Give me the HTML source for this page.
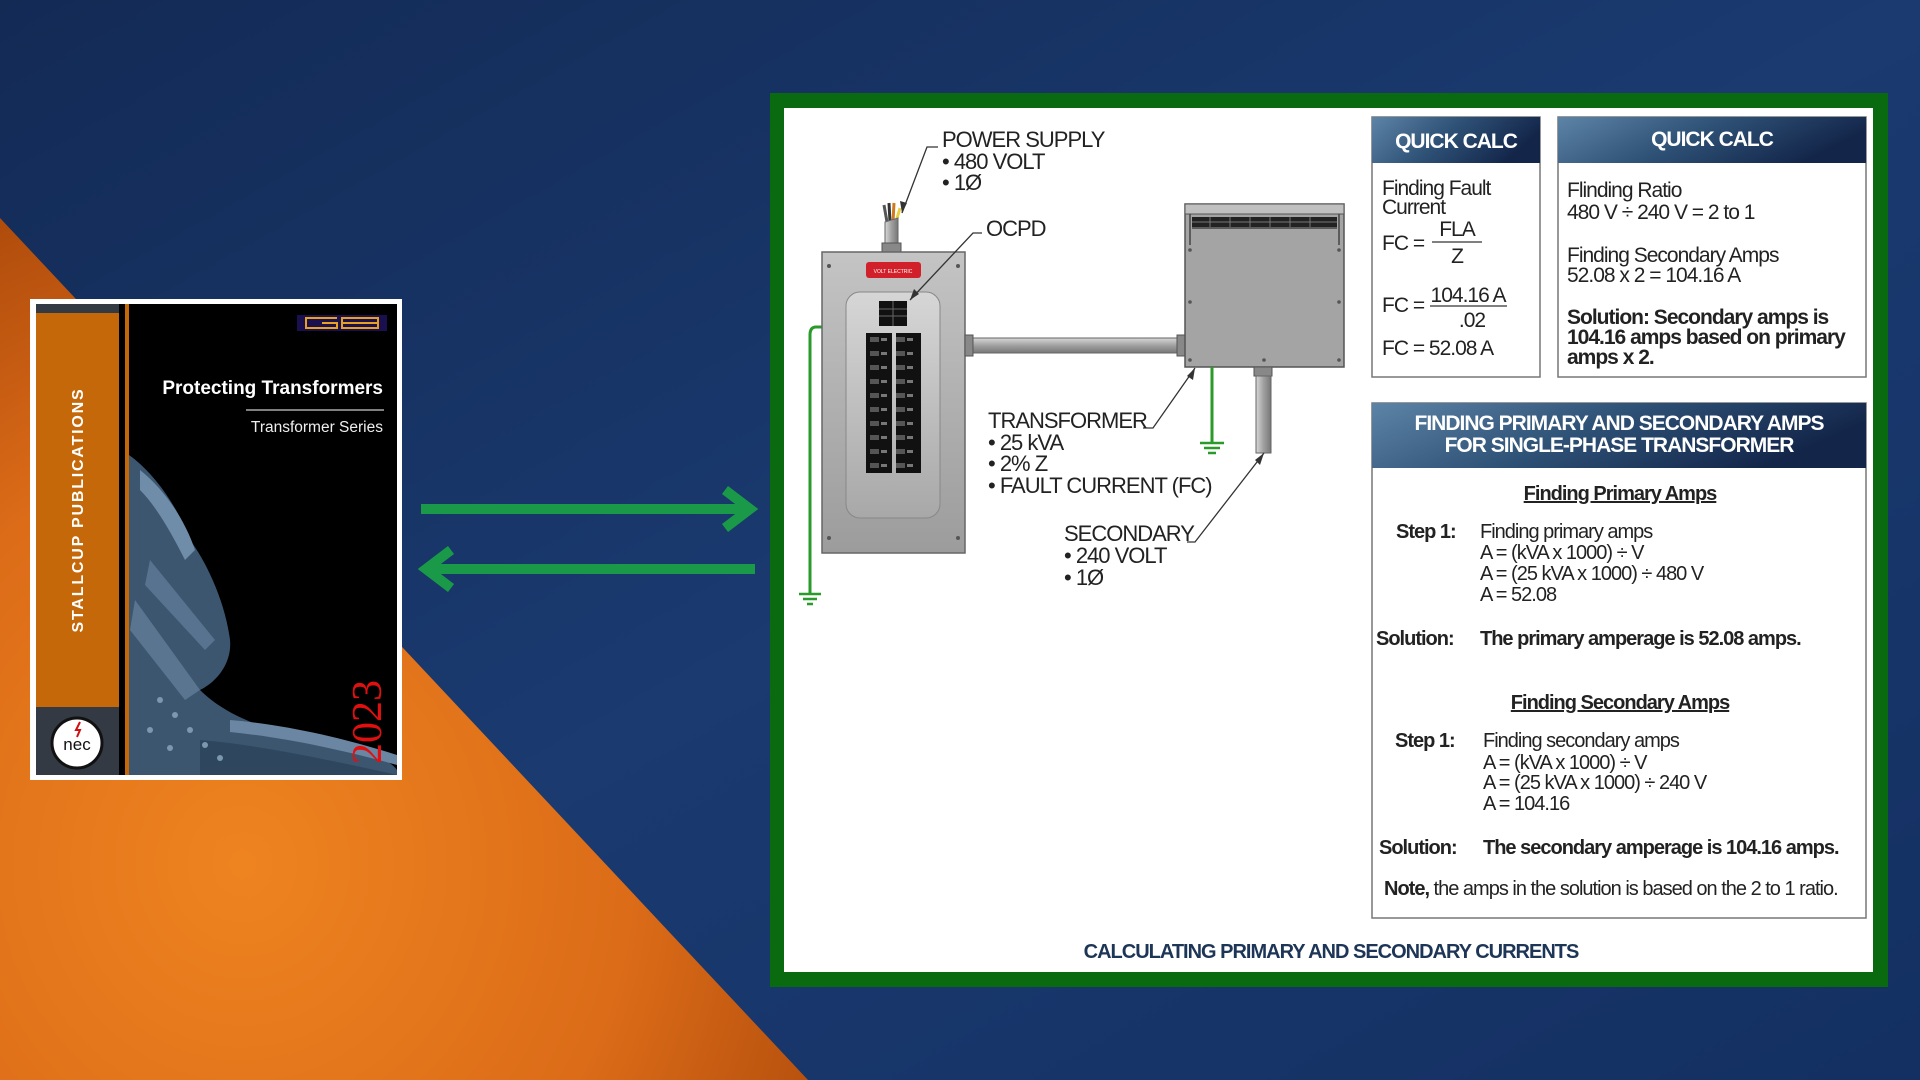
<!DOCTYPE html>
<html><head><meta charset="utf-8"><style>
html,body{margin:0;padding:0;width:1920px;height:1080px;overflow:hidden;background:#173468}
svg{position:absolute;left:0;top:0}
.n{font-family:"Liberation Sans",Arial,sans-serif;letter-spacing:-1px}
</style></head><body>
<svg width="1920" height="1080" viewBox="0 0 1920 1080" xmlns="http://www.w3.org/2000/svg">
<defs>
<linearGradient id="bg" x1="0" y1="0" x2="1" y2="1"><stop offset="0" stop-color="#132a55"/><stop offset="0.5" stop-color="#1a3a70"/><stop offset="1" stop-color="#143062"/></linearGradient>
<radialGradient id="or" cx="0.3" cy="0.75" r="0.8"><stop offset="0" stop-color="#ee8420"/><stop offset="0.6" stop-color="#dc6c18"/><stop offset="1" stop-color="#b04c0c"/></radialGradient>
<linearGradient id="hd" x1="0" y1="0" x2="1" y2="0.3"><stop offset="0" stop-color="#5d84a6"/><stop offset="0.5" stop-color="#2f5277"/><stop offset="1" stop-color="#13264a"/></linearGradient>
<linearGradient id="pn" x1="0" y1="0" x2="0" y2="1"><stop offset="0" stop-color="#c4c4c4"/><stop offset="1" stop-color="#9c9c9c"/></linearGradient>
<linearGradient id="dr" x1="0" y1="0" x2="0" y2="1"><stop offset="0" stop-color="#d6d6d6"/><stop offset="1" stop-color="#a8a8a8"/></linearGradient>
<linearGradient id="cd" x1="0" y1="0" x2="0" y2="1"><stop offset="0" stop-color="#d8d8d8"/><stop offset="0.5" stop-color="#a0a0a0"/><stop offset="1" stop-color="#777"/></linearGradient>
<linearGradient id="cv" x1="0" y1="0" x2="1" y2="0"><stop offset="0" stop-color="#d8d8d8"/><stop offset="0.5" stop-color="#a0a0a0"/><stop offset="1" stop-color="#777"/></linearGradient>
<pattern id="brk" x="866" y="333" width="26" height="14" patternUnits="userSpaceOnUse"><rect width="26" height="14" fill="#111"/><rect x="4" y="4" width="9" height="5" fill="#555"/><rect x="15" y="5" width="6" height="3" fill="#777"/></pattern>
</defs>
<rect width="1920" height="1080" fill="url(#bg)"/>
<polygon points="0,218 808,1080 0,1080" fill="url(#or)"/>

<!-- Book -->
<rect x="30" y="299" width="372" height="481" fill="#fff"/>
<rect x="36" y="304" width="361" height="471" fill="#000"/>
<rect x="36" y="304" width="83" height="471" fill="#333a44"/>
<rect x="36" y="313" width="83" height="394" fill="#c4680a"/>
<rect x="125" y="304" width="4" height="471" fill="#c4680a"/>
<g>
<path d="M129,455 C150,470 175,500 190,540 C205,560 225,600 230,640 C232,660 220,680 200,690 C230,720 280,735 340,745 C370,752 390,760 397,770 L397,775 L129,775 Z" fill="#3c5670"/>
<path d="M140,470 C165,490 185,520 195,550 L185,560 C170,530 155,505 140,490 Z" fill="#6f8ca8"/>
<path d="M150,560 L215,640 L205,650 L145,585 Z" fill="#58738f"/>
<path d="M135,600 L200,690 L185,700 L130,630 Z" fill="#5a7590"/>
<path d="M230,720 C290,725 350,740 397,755 L397,765 C350,752 290,738 230,732 Z" fill="#6a86a2"/>
<path d="M200,740 C260,745 330,760 397,775 L200,775 Z" fill="#2e465e"/>
<g fill="#7c97b0"><circle cx="160" cy="700" r="3"/><circle cx="175" cy="715" r="3"/><circle cx="190" cy="730" r="3"/><circle cx="205" cy="745" r="3"/><circle cx="220" cy="758" r="3"/><circle cx="150" cy="730" r="3"/><circle cx="170" cy="748" r="3"/></g>
</g>
<rect x="297" y="315" width="90" height="16" fill="#1a1050"/>
<g stroke="#e8a020" stroke-width="2" fill="none"><path d="M337,318 H306 V328 H337 V323 H322"/><path d="M342,318 H378 V328 H342 Z M342,323 H378"/></g>
<text x="383" y="394" font-family="Liberation Sans,sans-serif" font-size="19" font-weight="bold" fill="#fff" text-anchor="end">Protecting Transformers</text>
<line x1="246" y1="410" x2="384" y2="410" stroke="#ccc" stroke-width="1.2"/>
<text x="383" y="432" font-family="Liberation Sans,sans-serif" font-size="15.5" fill="#eee" text-anchor="end">Transformer Series</text>
<text transform="translate(83,510) rotate(-90)" font-family="Liberation Sans,sans-serif" font-size="16" font-weight="bold" fill="#fff" text-anchor="middle" letter-spacing="1.8">STALLCUP PUBLICATIONS</text>
<text transform="translate(381,722) rotate(-90)" font-family="Liberation Serif,serif" font-size="42" fill="#e01010" text-anchor="middle">2023</text>
<circle cx="77" cy="743" r="25" fill="#fff" stroke="#111" stroke-width="3"/>
<text x="77" y="750" font-family="Liberation Sans,sans-serif" font-size="17" fill="#111" text-anchor="middle">nec</text>
<path d="M80,722 l-4,8 h4 l-3,7" stroke="#d01010" stroke-width="2" fill="none"/>

<!-- Arrows -->
<g stroke="#1a9a48" stroke-width="10" fill="none">
<line x1="421" y1="509" x2="748" y2="509"/>
<polyline points="725,490 750,509 725,528"/>
<line x1="428" y1="569" x2="755" y2="569"/>
<polyline points="451,550 426,569 451,588"/>
</g>

<!-- Diagram frame -->
<rect x="770" y="93" width="1118" height="894" fill="#0a6a10"/>
<rect x="784" y="108" width="1089" height="864" fill="#fff"/>

<path d="M822,327 H816 Q810,327 810,335 V593" stroke="#2a9a2a" stroke-width="3" fill="none"/>
<g stroke="#2a9a2a" stroke-width="2.5"><line x1="799" y1="594" x2="821" y2="594"/><line x1="803" y1="599" x2="817" y2="599"/><line x1="807" y1="604" x2="813" y2="604"/></g>

<g stroke-width="3" fill="none"><path d="M887,222 L884,205" stroke="#555"/><path d="M890,222 L889,203" stroke="#333"/><path d="M893,222 L894,203" stroke="#d07a20"/><path d="M896,222 L900,208" stroke="#e8d040"/></g>
<path d="M885,222 L898,218 L898,245 L885,245 Z" fill="url(#cv)" stroke="#666"/>
<rect x="882" y="243" width="19" height="9" fill="#888" stroke="#555"/>
<rect x="822" y="252" width="143" height="301" fill="url(#pn)" stroke="#666" stroke-width="1.5"/>
<g fill="#555"><circle cx="829" cy="266" r="2"/><circle cx="958" cy="266" r="2"/><circle cx="829" cy="538" r="2"/><circle cx="958" cy="538" r="2"/></g>
<rect x="866" y="262" width="55" height="16" rx="3" fill="#d2202a"/>
<text x="893" y="273" font-family="Liberation Sans,sans-serif" font-size="5" fill="#fff" text-anchor="middle">VOLT ELECTRIC</text>
<rect x="846" y="292" width="94" height="226" rx="14" fill="url(#dr)" stroke="#888"/>
<rect x="879" y="301" width="28" height="25" fill="#111"/>
<g stroke="#666" stroke-width="1"><line x1="879" y1="309" x2="907" y2="309"/><line x1="879" y1="316" x2="907" y2="316"/><line x1="893" y1="301" x2="893" y2="326"/></g>
<rect x="866" y="333" width="26" height="140" fill="url(#brk)"/>
<rect x="896" y="333" width="25" height="140" fill="url(#brk)"/>
<rect x="967" y="338" width="216" height="15" fill="url(#cd)" stroke="#666"/>
<rect x="965" y="335" width="8" height="21" fill="#888" stroke="#555"/>
<rect x="1177" y="335" width="8" height="21" fill="#888" stroke="#555"/>
<rect x="1185" y="204" width="159" height="163" fill="#a4a4a4" stroke="#555" stroke-width="1.5"/>
<rect x="1185" y="204" width="159" height="10" fill="#c0c0c0" stroke="#555"/>
<rect x="1192" y="217" width="145" height="10" fill="#222"/>
<g stroke="#777" stroke-width="1"><line x1="1210" y1="217" x2="1210" y2="227"/><line x1="1230" y1="217" x2="1230" y2="227"/><line x1="1250" y1="217" x2="1250" y2="227"/><line x1="1270" y1="217" x2="1270" y2="227"/><line x1="1290" y1="217" x2="1290" y2="227"/><line x1="1310" y1="217" x2="1310" y2="227"/><line x1="1192" y1="222" x2="1337" y2="222"/></g>
<path d="M1190,214 V245 M1339,214 V245 M1192,228 H1337" stroke="#444" stroke-width="1.5" fill="none"/>
<g fill="#555"><circle cx="1190" cy="250" r="1.8"/><circle cx="1339" cy="250" r="1.8"/><circle cx="1190" cy="302" r="1.8"/><circle cx="1339" cy="302" r="1.8"/><circle cx="1190" cy="360" r="1.8"/><circle cx="1339" cy="360" r="1.8"/><circle cx="1264" cy="360" r="1.8"/></g>
<line x1="1212" y1="367" x2="1212" y2="442" stroke="#2a9a2a" stroke-width="3"/>
<g stroke="#2a9a2a" stroke-width="2.5"><line x1="1200" y1="443" x2="1224" y2="443"/><line x1="1204" y1="448" x2="1220" y2="448"/><line x1="1208" y1="453" x2="1216" y2="453"/></g>
<rect x="1254" y="367" width="18" height="9" fill="#888" stroke="#555"/>
<rect x="1256" y="376" width="15" height="77" fill="url(#cv)" stroke="#666"/>

<g stroke="#333" stroke-width="1.3" fill="none">
<polyline points="938,147 927,147 902,213"/><polyline points="982,233 973,233 910,300"/>
<polyline points="1143,428 1153,428 1195,368"/><polyline points="1187,542 1195,542 1264,453"/>
</g>
<g fill="#333"><polygon points="902,213 900,201 907,203"/><polygon points="910,300 914,289 919,294"/><polygon points="1195,368 1193,380 1187,376"/><polygon points="1264,453 1260,465 1255,460"/></g>

<g class="n" font-size="22" fill="#222">
<text x="942" y="147">POWER SUPPLY</text>
<text x="942" y="169">• 480 VOLT</text>
<text x="942" y="190">• 1Ø</text>
<text x="986" y="236">OCPD</text>
<text x="988" y="428">TRANSFORMER</text>
<text x="988" y="450">• 25 kVA</text>
<text x="988" y="471">• 2% Z</text>
<text x="988" y="493">• FAULT CURRENT (FC)</text>
<text x="1064" y="541">SECONDARY</text>
<text x="1064" y="563">• 240 VOLT</text>
<text x="1064" y="585">• 1Ø</text>
</g>

<rect x="1372" y="117" width="168" height="260" fill="#fff" stroke="#777" stroke-width="1.5"/>
<rect x="1372" y="117" width="168" height="46" fill="url(#hd)"/>
<text x="1456" y="148" class="n" font-size="21" font-weight="bold" fill="#fff" text-anchor="middle" letter-spacing="-0.5">QUICK CALC</text>
<g class="n" font-size="21" fill="#222">
<text x="1382" y="195">Finding Fault</text>
<text x="1382" y="214">Current</text>
<text x="1382" y="250">FC =</text>
<text x="1457" y="236" text-anchor="middle">FLA</text>
<text x="1457" y="263" text-anchor="middle">Z</text>
<text x="1382" y="312">FC =</text>
<text x="1468" y="302" text-anchor="middle">104.16 A</text>
<text x="1472" y="327" text-anchor="middle">.02</text>
<text x="1382" y="355">FC = 52.08 A</text>
</g>
<line x1="1432" y1="242" x2="1482" y2="242" stroke="#333" stroke-width="1.3"/>
<line x1="1430" y1="306" x2="1507" y2="306" stroke="#333" stroke-width="1.3"/>

<rect x="1558" y="117" width="308" height="260" fill="#fff" stroke="#777" stroke-width="1.5"/>
<rect x="1558" y="117" width="308" height="46" fill="url(#hd)"/>
<text x="1712" y="146" class="n" font-size="21" font-weight="bold" fill="#fff" text-anchor="middle" letter-spacing="-0.5">QUICK CALC</text>
<g class="n" font-size="21" fill="#222">
<text x="1567" y="197">Flinding Ratio</text>
<text x="1567" y="219">480 V ÷ 240 V = 2 to 1</text>
<text x="1567" y="262">Finding Secondary Amps</text>
<text x="1567" y="282">52.08 x 2 = 104.16 A</text>
<text x="1567" y="324" font-weight="bold">Solution: Secondary amps is</text>
<text x="1567" y="344" font-weight="bold">104.16 amps based on primary</text>
<text x="1567" y="364" font-weight="bold">amps x 2.</text>
</g>

<rect x="1372" y="403" width="494" height="515" fill="#fff" stroke="#777" stroke-width="1.5"/>
<rect x="1372" y="403" width="494" height="65" fill="url(#hd)"/>
<g class="n" font-size="21" font-weight="bold" fill="#fff" text-anchor="middle" letter-spacing="-0.5">
<text x="1619" y="430">FINDING PRIMARY AND SECONDARY AMPS</text>
<text x="1619" y="452">FOR SINGLE-PHASE TRANSFORMER</text>
</g>
<g class="n" font-size="20" fill="#222">
<text x="1620" y="500" text-anchor="middle" font-weight="bold" text-decoration="underline">Finding Primary Amps</text>
<text x="1396" y="538" font-weight="bold">Step 1:</text>
<text x="1480" y="538">Finding primary amps</text>
<text x="1480" y="559">A = (kVA x 1000) ÷ V</text>
<text x="1480" y="580">A = (25 kVA x 1000) ÷ 480 V</text>
<text x="1480" y="601">A = 52.08</text>
<text x="1376" y="645" font-weight="bold">Solution:</text>
<text x="1480" y="645" font-weight="bold">The primary amperage is 52.08 amps.</text>
<text x="1620" y="709" text-anchor="middle" font-weight="bold" text-decoration="underline">Finding Secondary Amps</text>
<text x="1395" y="747" font-weight="bold">Step 1:</text>
<text x="1483" y="747">Finding secondary amps</text>
<text x="1483" y="769">A = (kVA x 1000) ÷ V</text>
<text x="1483" y="789">A = (25 kVA x 1000) ÷ 240 V</text>
<text x="1483" y="810">A = 104.16</text>
<text x="1379" y="854" font-weight="bold">Solution:</text>
<text x="1483" y="854" font-weight="bold">The secondary amperage is 104.16 amps.</text>
<text x="1384" y="895"><tspan font-weight="bold">Note,</tspan> the amps in the solution is based on the 2 to 1 ratio.</text>
</g>
<text x="1331" y="958" class="n" font-size="20" font-weight="bold" fill="#1d3556" text-anchor="middle" letter-spacing="-0.5">CALCULATING PRIMARY AND SECONDARY CURRENTS</text>
</svg>
</body></html>
